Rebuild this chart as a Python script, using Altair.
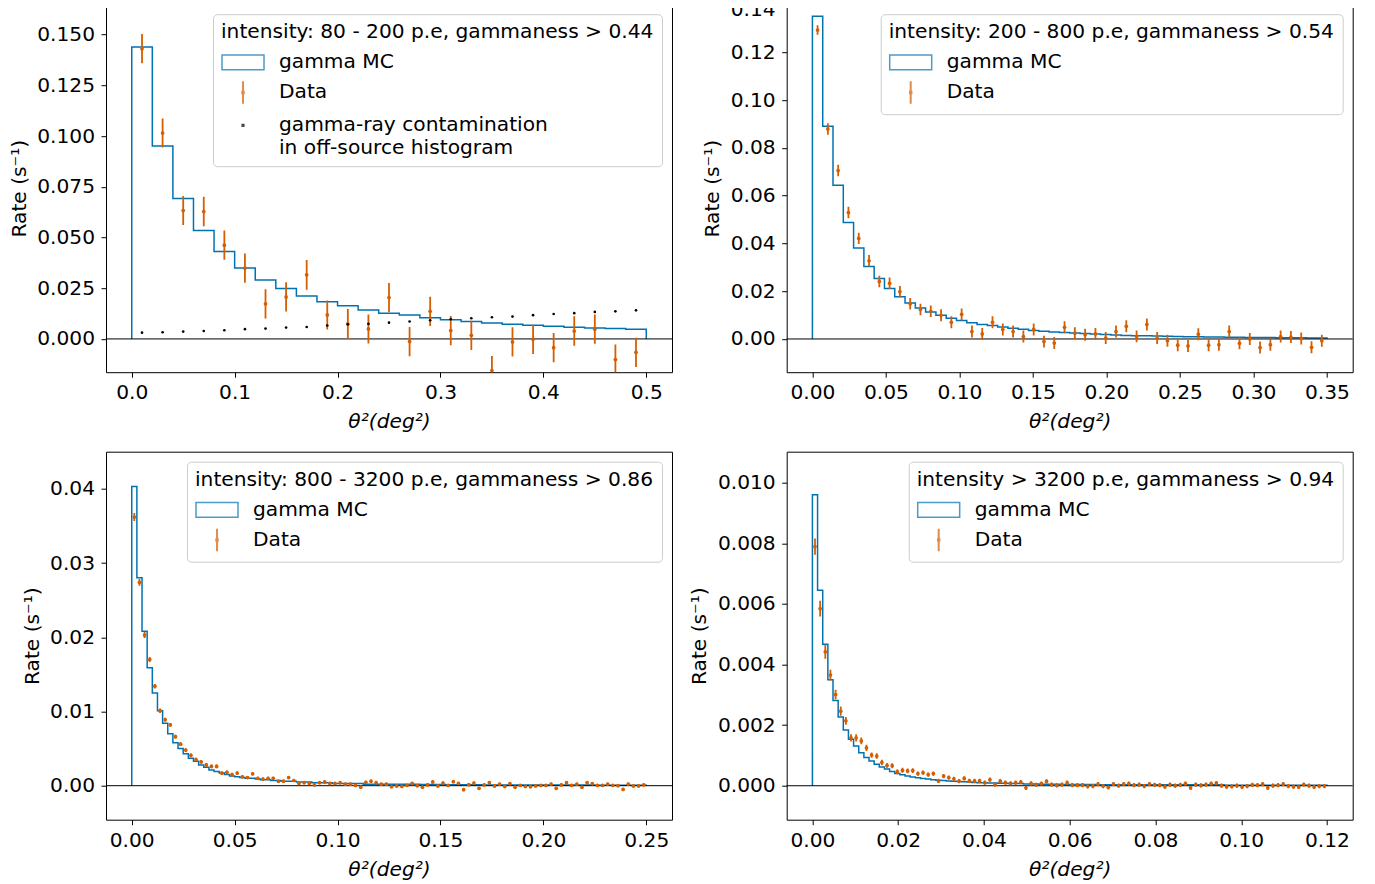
import altair as alt
import pandas as pd

BLUE = "#0072B2"
ORANGE = "#D55E00"
FONT = "DejaVu Sans"
FS = 20.2

Y_TITLE = "Rate (s⁻¹)"
X_TITLE = "θ²(deg²)"

LEG_ENTRIES_3 = ["gamma MC", "Data", "gamma-ray contamination|in off-source histogram"]
LEG_ENTRIES_2 = ["gamma MC", "Data"]
LEG_COLORS_3 = [BLUE, ORANGE, "black"]
LEG_COLORS_2 = [BLUE, ORANGE]
RECT_PATH = "M-1.5,-0.52H1.5V0.52H-1.5Z"
ERR_PATH = "M-0.02,-0.75H0.02V0.75H-0.02ZM-0.07,-0.07H0.07V0.07H-0.07Z"
DOT_PATH = "M-0.06,-0.06H0.06V0.06H-0.06Z"

# ---------------- Panel 1 ----------------
p1_title = "intensity: 80 - 200 p.e, gammaness > 0.44"
p1_bin_width = 0.02
p1_mc = [0.1439, 0.0951, 0.0692, 0.0534, 0.0431, 0.0350, 0.0291, 0.0248, 0.0212, 0.0183,
         0.0163, 0.0143, 0.0126, 0.0118, 0.0104, 0.0095, 0.0086, 0.0079, 0.0072, 0.0067,
         0.0062, 0.0058, 0.0054, 0.0051, 0.0048]
p1_data = [0.1431, 0.1015, 0.0633, 0.0628, 0.0462, 0.0349, 0.0173, 0.0207, 0.0316, 0.0118,
           0.0074, 0.0049, 0.0204, -0.0013, 0.0136, 0.0041, 0.0018, -0.0156, -0.0015, -0.0002,
           -0.0043, 0.0039, 0.0048, -0.0102, -0.0066]
p1_err = [0.0072, 0.0072, 0.0072, 0.0073, 0.0072, 0.0072, 0.0072, 0.0072, 0.0073, 0.0072,
          0.0073, 0.0072, 0.0072, 0.0072, 0.0072, 0.0072, 0.0072, 0.0072, 0.0072, 0.0072,
          0.0072, 0.0073, 0.0072, 0.0074, 0.0072]
p1_offsrc = [0.0031, 0.0033, 0.0036, 0.0039, 0.0043, 0.0048, 0.0051, 0.0056, 0.0059, 0.0066,
             0.0072, 0.0074, 0.0080, 0.0086, 0.0092, 0.0097, 0.0102, 0.0107, 0.0110, 0.0117,
             0.0123, 0.0127, 0.0133, 0.0136, 0.0141]
p1_xticks = [0.0, 0.1, 0.2, 0.3, 0.4, 0.5]
p1_yticks = [0.0, 0.025, 0.05, 0.075, 0.1, 0.125, 0.15]
p1_xdomain = [-0.025, 0.525]
p1_ydomain = [-0.0164, 0.165]

# ---------------- Panel 2 ----------------
p2_title = "intensity: 200 - 800 p.e, gammaness > 0.54"
p2_bin_width = 0.007
p2_mc = [0.1351, 0.0890, 0.0643, 0.0487, 0.0381, 0.0303, 0.0253, 0.0211, 0.0177, 0.0151,
         0.0130, 0.0113, 0.0099, 0.0087, 0.0077, 0.0068, 0.0061, 0.0056, 0.0050, 0.0045,
         0.0041, 0.0036, 0.0032, 0.0029, 0.0027, 0.0025, 0.0023, 0.0021, 0.0019, 0.0017,
         0.0015, 0.0014, 0.0013, 0.0012, 0.0011, 0.0010, 0.0009, 0.0009, 0.0008, 0.0008,
         0.0007, 0.0007, 0.0006, 0.0006, 0.0006, 0.0005, 0.0005, 0.0005, 0.0004, 0.0004]
p2_data = [0.1293, 0.0879, 0.0705, 0.0529, 0.0421, 0.0327, 0.0241, 0.0233, 0.0198, 0.0147,
           0.0123, 0.0116, 0.0099, 0.0070, 0.0103, 0.0031, 0.0021, 0.0070, 0.0040, 0.0031,
           0.0010, 0.0040, -0.0011, -0.0017, 0.0049, 0.0024, 0.0018, 0.0021, 0.0004, 0.0031,
           0.0053, 0.0011, 0.0061, 0.0004, -0.0007, -0.0026, -0.0029, 0.0020, -0.0026, -0.0024,
           0.0031, -0.0018, 0.0000, -0.0036, -0.0024, 0.0010, 0.0008, 0.0002, -0.0035, -0.0007]
p2_err = [0.0020, 0.0024, 0.0024, 0.0024, 0.0024, 0.0024, 0.0024, 0.0024, 0.0024, 0.0024,
          0.0024, 0.0024, 0.0025, 0.0025, 0.0025, 0.0025, 0.0025, 0.0025, 0.0025, 0.0025,
          0.0025, 0.0025, 0.0025, 0.0025, 0.0025, 0.0025, 0.0025, 0.0025, 0.0025, 0.0025,
          0.0025, 0.0025, 0.0025, 0.0025, 0.0025, 0.0025, 0.0025, 0.0025, 0.0025, 0.0025,
          0.0025, 0.0025, 0.0025, 0.0025, 0.0025, 0.0025, 0.0025, 0.0025, 0.0025, 0.0025]
p2_xticks = [0.0, 0.05, 0.1, 0.15, 0.2, 0.25, 0.3, 0.35]
p2_yticks = [0.0, 0.02, 0.04, 0.06, 0.08, 0.10, 0.12, 0.14]
p2_xdomain = [-0.0175, 0.3675]
p2_ydomain = [-0.0139, 0.1401]

# ---------------- Panel 3 ----------------
p3_title = "intensity: 800 - 3200 p.e, gammaness > 0.86"
p3_bin_width = 0.0025
p3_mc = [0.0403, 0.0280, 0.0208, 0.0159, 0.0125, 0.0101, 0.0084, 0.0070, 0.0058, 0.0050,
         0.0043, 0.0037, 0.0033, 0.0028, 0.0025, 0.0021, 0.0019, 0.0017, 0.0015, 0.0013,
         0.0012, 0.0011, 0.0010, 0.0010, 0.0009, 0.0008, 0.0008, 0.0007, 0.0007, 0.0006,
         0.0006, 0.0006, 0.0005, 0.0005, 0.0005, 0.0004, 0.0004, 0.0004, 0.0004, 0.0003,
         0.0003, 0.0003, 0.0003, 0.0003, 0.0003, 0.0002, 0.0002, 0.0002, 0.0002, 0.0002,
         0.0002, 0.0002, 0.0002, 0.0002, 0.00018, 0.00018, 0.00017, 0.00016, 0.00016, 0.00015,
         0.00015, 0.00014, 0.00014, 0.00013, 0.00013, 0.00012, 0.00012, 0.00012, 0.00011, 0.00011,
         0.00011, 0.00010, 0.00010, 0.00010, 0.00010, 0.00010, 0.00009, 0.00009, 0.00009, 0.00009,
         0.00008, 0.00008, 0.00008, 0.00008, 0.00008, 0.00008, 0.00008, 0.00008, 0.00008, 0.00008,
         0.00007, 0.00007, 0.00007, 0.00007, 0.00007, 0.00007, 0.00007, 0.00007, 0.00007, 0.00007]
p3_data = [0.0362, 0.0274, 0.0203, 0.0170, 0.0134, 0.0101, 0.0089, 0.0082, 0.0066, 0.0056,
           0.0048, 0.0041, 0.0035, 0.0032, 0.0028, 0.0026, 0.0026, 0.0017, 0.0018, 0.0015,
           0.0017, 0.0012, 0.0011, 0.0016, 0.0010, 0.0009, 0.0010, 0.0010, 0.0006, 0.0006,
           0.0011, 0.0007, 0.0003, 0.0004, 0.0003, 0.0001, 0.0004, 0.0005, 0.0003, 0.0003,
           0.0004, 0.0002, 0.0002, 0.00004, -0.0002, 0.00045, 0.0006, 0.0004, 0.0002, 0.0002,
           -0.00013, -0.00004, -0.0001, 0.00004, 0.0003, 0.0, -0.0002, 0.0001, 0.0005, -0.00004,
           0.00036, 0.00004, 0.00054, 0.0003, -0.00054, 0.00013, 0.00036, -0.00036, 0.0001, 0.0004,
           -0.00004, 0.0002, -0.0001, 0.00027, -0.0002, 0.00004, -0.0001, -0.00013, -0.00004, 0.00004,
           0.00004, 0.0002, -0.00036, 0.0001, 0.0004, 0.00004, 0.0002, -0.0002, 0.0004, 0.00027,
           0.00004, 0.00004, 0.0002, 0.00004, 0.0, -0.0005, 0.0002, -0.00004, -0.00004, 0.0001]
p3_err = [0.00055, 0.00045, 0.0004, 0.00035, 0.0003, 0.0003, 0.00025, 0.00025, 0.00025, 0.00025,
          0.00025, 0.00025, 0.00025, 0.00025, 0.00025, 0.00025, 0.00025, 0.00025, 0.00025, 0.00025,
          0.0002, 0.0002, 0.0002, 0.0002, 0.0002, 0.0002, 0.0002, 0.0002, 0.0002, 0.0002,
          0.0002, 0.0002, 0.0002, 0.0002, 0.0002, 0.0002, 0.0002, 0.0002, 0.0002, 0.0002,
          0.0002, 0.0002, 0.0002, 0.0002, 0.0002, 0.0002, 0.0002, 0.0002, 0.0002, 0.0002,
          0.0002, 0.0002, 0.0002, 0.0002, 0.0002, 0.0002, 0.0002, 0.0002, 0.0002, 0.0002,
          0.0002, 0.0002, 0.0002, 0.0002, 0.0002, 0.0002, 0.0002, 0.0002, 0.0002, 0.0002,
          0.0002, 0.0002, 0.0002, 0.0002, 0.0002, 0.0002, 0.0002, 0.0002, 0.0002, 0.0002,
          0.0002, 0.0002, 0.0002, 0.0002, 0.0002, 0.0002, 0.0002, 0.0002, 0.0002, 0.0002,
          0.0002, 0.0002, 0.0002, 0.0002, 0.0002, 0.0002, 0.0002, 0.0002, 0.0002, 0.0002]
p3_xticks = [0.0, 0.05, 0.1, 0.15, 0.2, 0.25]
p3_yticks = [0.0, 0.01, 0.02, 0.03, 0.04]
p3_xdomain = [-0.0125, 0.2625]
p3_ydomain = [-0.00458, 0.0450]

# ---------------- Panel 4 ----------------
p4_title = "intensity > 3200 p.e, gammaness > 0.94"
p4_bin_width = 0.0012
p4_mc = [0.00960, 0.00645, 0.00467, 0.00350, 0.00281, 0.00227, 0.00184, 0.00153, 0.00131, 0.00109,
         0.00093, 0.00082, 0.00071, 0.00062, 0.00055, 0.00047, 0.00040, 0.00036, 0.00032, 0.00029,
         0.00026, 0.00024, 0.00022, 0.00020, 0.00018, 0.00017, 0.00016, 0.00015, 0.00014, 0.00013,
         0.00012, 0.00011, 0.00010, 0.00010, 0.00009, 0.00009, 0.00008, 0.00008, 0.00007, 0.00007,
         0.00007, 0.00006, 0.00006, 0.00006, 0.00005, 0.00005, 0.00005, 0.00005, 0.00004, 0.00004,
         0.00004, 0.00004, 0.00004, 0.00004, 0.00004, 0.00003, 0.00003, 0.00003, 0.00003, 0.00003,
         0.00003, 0.00003, 0.00003, 0.00003, 0.00003, 0.00003, 0.00003, 0.00003, 0.00003, 0.00003,
         0.00003, 0.00003, 0.00003, 0.00003, 0.00003, 0.00003, 0.00003, 0.00003, 0.00003, 0.00003,
         0.00002, 0.00002, 0.00002, 0.00002, 0.00002, 0.00002, 0.00002, 0.00002, 0.00002, 0.00002,
         0.00002, 0.00002, 0.00002, 0.00002, 0.00002, 0.00002, 0.00002, 0.00002, 0.00002, 0.00002]
p4_data = [0.00789, 0.00584, 0.00442, 0.00365, 0.00301, 0.00246, 0.00214, 0.00158, 0.00158, 0.00148,
           0.00125, 0.00101, 0.00098, 0.00077, 0.00067, 0.00066, 0.00046, 0.00051, 0.00049, 0.00050,
           0.00040, 0.00043, 0.00037, 0.00040, 0.00016, 0.00032, 0.00027, 0.00023, 0.00015, 0.00024,
           0.00016, 0.00016, 0.00016, 0.00010, 0.00020, 0.00004, 0.00015, 0.00010, 0.00008, 0.00010,
           0.00012, -0.00007, 0.00008, 0.00003, 0.00007, 0.00014, 0.00004, 0.00001, 0.00004, 0.00010,
           0.00002, 0.00002, 0.00002, -0.00002, -0.00001, 0.00005, -0.00001, -0.00005, 0.00005, 0.0,
           0.00005, 0.00007, 0.00002, 0.00004, -0.00001, 0.00005, 0.00003, 0.00002, -0.00003, 0.00004,
           0.0, 0.00003, 0.00007, -0.00007, 0.00004, 0.00001, 0.00004, 0.00007, 0.00009, 0.0,
           -0.00003, -0.00002, 0.0, -0.00004, -0.00001, 0.00003, 0.00002, 0.00005, -0.00007, 0.0,
           0.00002, 0.00005, -0.00001, -0.00003, -0.00004, 0.00004, 0.0, -0.00004, -0.00001, -0.00001]
p4_err = [0.00027, 0.00026, 0.00023, 0.00018, 0.00016, 0.00015, 0.00013, 0.00012, 0.00012, 0.00011,
          0.00010, 0.00009, 0.00009, 0.00009, 0.00008, 0.00008, 0.00008, 0.00008, 0.00008, 0.00008,
          0.00007, 0.00007, 0.00007, 0.00007, 0.00007, 0.00007, 0.00007, 0.00007, 0.00007, 0.00007,
          0.00007, 0.00007, 0.00007, 0.00007, 0.00007, 0.00007, 0.00007, 0.00007, 0.00007, 0.00007,
          0.00007, 0.00007, 0.00007, 0.00007, 0.00007, 0.00007, 0.00007, 0.00007, 0.00007, 0.00007,
          0.00007, 0.00007, 0.00007, 0.00007, 0.00007, 0.00007, 0.00007, 0.00007, 0.00007, 0.00007,
          0.00007, 0.00007, 0.00007, 0.00007, 0.00007, 0.00007, 0.00007, 0.00007, 0.00007, 0.00007,
          0.00007, 0.00007, 0.00007, 0.00007, 0.00007, 0.00007, 0.00007, 0.00007, 0.00007, 0.00007,
          0.00007, 0.00007, 0.00007, 0.00007, 0.00007, 0.00007, 0.00007, 0.00007, 0.00007, 0.00007,
          0.00007, 0.00007, 0.00007, 0.00007, 0.00007, 0.00007, 0.00007, 0.00007, 0.00007, 0.00007]
p4_xticks = [0.0, 0.02, 0.04, 0.06, 0.08, 0.10, 0.12]
p4_yticks = [0.0, 0.002, 0.004, 0.006, 0.008, 0.010]
p4_xdomain = [-0.006, 0.126]
p4_ydomain = [-0.00112, 0.01102]

PANEL_W = 566
PANEL_H = 368


def panel(title, bw, mc, data, err, xticks, xfmt, yticks, yfmt, xdom, ydom, offsrc=None):
    n = len(mc)
    xs, ys = [0.0], [0.0]
    for i, v in enumerate(mc):
        xs += [i * bw, (i + 1) * bw]
        ys += [v, v]
    xs.append(n * bw)
    ys.append(0.0)
    mc_df = pd.DataFrame({"x": xs, "y": ys, "order": list(range(len(xs)))})
    centers = [(i + 0.5) * bw for i in range(len(data))]
    d_df = pd.DataFrame({
        "x": centers,
        "y": data,
        "lo": [d - e for d, e in zip(data, err)],
        "hi": [d + e for d, e in zip(data, err)],
    })
    xscale = alt.Scale(domain=xdom, nice=False, zero=False)
    yscale = alt.Scale(domain=ydom, nice=False, zero=False)
    xaxis = alt.Axis(values=xticks, format=xfmt, title=X_TITLE)
    # the top-most tick label sits on the (cropped) top edge: nudge it a little down
    top_tick = yticks[-1]
    yaxis = alt.Axis(
        values=yticks, format=yfmt, title=Y_TITLE,
        labelOffset={"condition": {"test": f"abs(datum.value - {top_tick}) < 1e-9 && {ydom[1]} - {top_tick} < 0.001",
                                   "value": 5}, "value": 0},
    )
    X = alt.X("x:Q", scale=xscale, axis=xaxis)
    Y = alt.Y("y:Q", scale=yscale, axis=yaxis)

    layers = []
    layers.append(alt.Chart(mc_df).mark_line(color=BLUE, strokeWidth=1.5, clip=True)
                  .encode(X, Y, order="order:Q"))
    layers.append(alt.Chart(pd.DataFrame({"y": [0.0]})).mark_rule(color="black", strokeWidth=1)
                  .encode(y=alt.Y("y:Q", scale=yscale, axis=yaxis)))
    layers.append(alt.Chart(d_df).mark_rule(color=ORANGE, strokeWidth=1.8, clip=True)
                  .encode(X, alt.Y("lo:Q", scale=yscale, axis=yaxis), y2="hi:Q"))
    layers.append(alt.Chart(d_df).mark_circle(color=ORANGE, size=14, opacity=1, clip=True)
                  .encode(X, Y))
    if offsrc is not None:
        o_df = pd.DataFrame({"x": centers, "y": offsrc})
        layers.append(alt.Chart(o_df).mark_circle(color="black", size=7, opacity=1, clip=True)
                      .encode(X, Y))
        entries, colors, shapes = LEG_ENTRIES_3, LEG_COLORS_3, [RECT_PATH, ERR_PATH, DOT_PATH]
    else:
        entries, colors, shapes = LEG_ENTRIES_2, LEG_COLORS_2, [RECT_PATH, ERR_PATH]

    leg = alt.Legend(
        title=title, orient="top-right", offset=10, padding=8,
        strokeColor="#cccccc", fillColor="rgba(255,255,255,0.85)", cornerRadius=4,
        titleFont=FONT, titleFontSize=FS, titleFontWeight="normal", titleColor="black",
        titleLimit=2000, titlePadding=5,
        labelFont=FONT, labelFontSize=FS, labelColor="black", labelLimit=2000,
        labelExpr="split(datum.label, '|')",
        symbolSize=784, symbolStrokeWidth=1.5, symbolOffset=7, labelOffset=21,
        rowPadding=4, symbolType="circle",
    )
    l_df = pd.DataFrame({"x": [xdom[0] - 1.0] * len(entries), "y": [0.0] * len(entries),
                         "entry": entries})
    layers.append(alt.Chart(l_df).mark_point(filled=False, clip=True, strokeWidth=1.5)
                  .encode(X, Y,
                          color=alt.Color("entry:N", scale=alt.Scale(domain=entries, range=colors),
                                          legend=leg),
                          shape=alt.Shape("entry:N", scale=alt.Scale(domain=entries, range=shapes),
                                          legend=leg)))
    return alt.layer(*layers).properties(width=PANEL_W, height=PANEL_H)


c1 = panel(p1_title, p1_bin_width, p1_mc, p1_data, p1_err, p1_xticks, ".1f", p1_yticks, ".3f",
           p1_xdomain, p1_ydomain, offsrc=p1_offsrc)
c2 = panel(p2_title, p2_bin_width, p2_mc, p2_data, p2_err, p2_xticks, ".2f", p2_yticks, ".2f",
           p2_xdomain, p2_ydomain)
c3 = panel(p3_title, p3_bin_width, p3_mc, p3_data, p3_err, p3_xticks, ".2f", p3_yticks, ".2f",
           p3_xdomain, p3_ydomain)
c4 = panel(p4_title, p4_bin_width, p4_mc, p4_data, p4_err, p4_xticks, ".2f", p4_yticks, ".3f",
           p4_xdomain, p4_ydomain)

chart = (
    alt.concat(c1, c2, c3, c4, columns=2, spacing={"row": 79.5, "column": 114.7}, bounds="flush")
    .resolve_scale(x="independent", y="independent", color="independent", shape="independent")
    .resolve_legend(color="independent", shape="independent")
    .properties(padding={"left": 0, "top": -9.8, "right": 5, "bottom": 0}, background="white")
    .configure_view(stroke="black", strokeWidth=1)
    .configure_axis(
        domain=False, grid=False, ticks=True, tickColor="black", tickSize=5, tickWidth=1,
        labelFont=FONT, labelFontSize=FS, labelColor="black", labelFlush=False, labelOverlap=False,
        titleFont=FONT, titleFontSize=FS, titleFontWeight="normal", titleColor="black",
    )
    .configure_axisX(labelPadding=5.5, titlePadding=9, titleFontStyle="italic")
    .configure_axisY(labelPadding=6.5, titlePadding=7.5)
)

chart.save("out.html", embed_options={"renderer": "svg", "actions": False})
